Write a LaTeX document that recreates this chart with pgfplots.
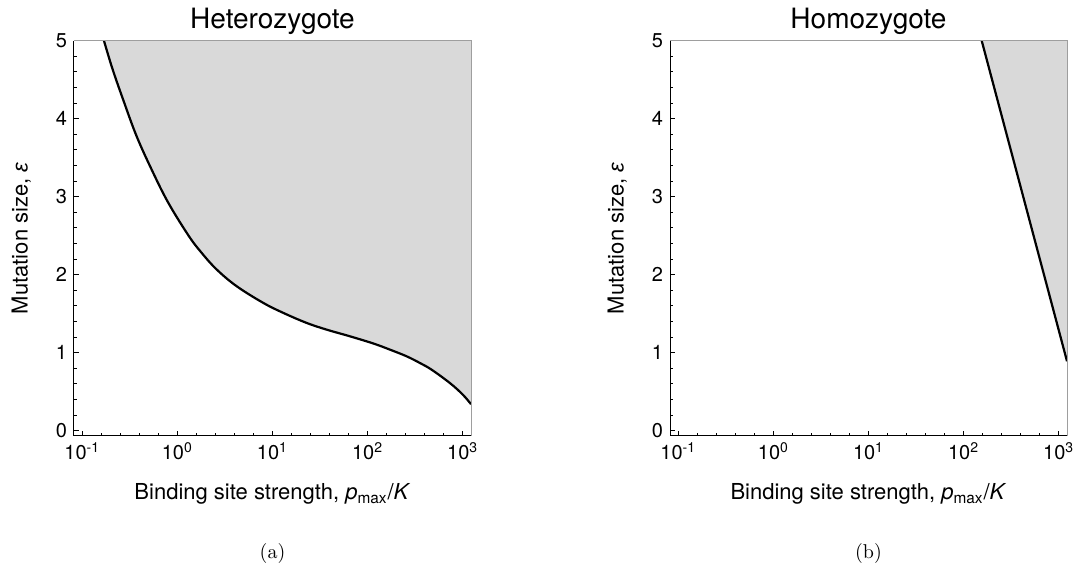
\documentclass[border=0pt]{standalone}
\usepackage{fontspec}
\usepackage{pgfplots}
\usepackage{pgfplotstable}
\pgfplotsset{compat=1.18}
\newfontfamily\hv{TeX Gyre Heros}
\newfontfamily\lib{Liberation Sans}
\definecolor{shade}{gray}{0.85}
\definecolor{framegray}{gray}{0.62}

% log10(p_max/K) vs epsilon
\pgfplotstableread{
lx eps
-0.772 5.000
-0.684 4.644
-0.572 4.250
-0.432 3.785
-0.274 3.356
-0.098 2.927
0.119 2.498
0.253 2.283
0.411 2.069
0.621 1.854
0.902 1.639
1.112 1.511
1.358 1.382
1.568 1.296
1.814 1.210
2.060 1.118
2.235 1.039
2.411 0.953
2.551 0.867
2.674 0.781
2.867 0.609
3.000 0.463
3.087 0.340
}\hetero

\pgfplotstableread{
lx eps
-0.772 5.000
-0.684 4.644
-0.572 4.250
-0.432 3.785
-0.274 3.356
-0.098 2.927
0.119 2.498
0.253 2.283
0.411 2.069
0.621 1.854
0.902 1.639
1.112 1.511
1.358 1.382
1.568 1.296
1.814 1.210
2.060 1.118
2.235 1.039
2.411 0.953
2.551 0.867
2.674 0.781
2.867 0.609
3.000 0.463
3.087 0.340
3.10 0.32
3.10 5.10
-0.772 5.10
}\heterofill

\pgfplotstableread{
lx eps
2.19 5.00
3.087 0.89
}\homo

\pgfplotstableread{
lx eps
2.19 5.10
2.19 5.00
3.087 0.89
3.10 0.86
3.10 5.10
}\homofill

\pgfplotsset{
  myaxis/.style={
    scale only axis, width=198.5pt, height=197.65pt,
    xmin=-1.087, xmax=3.087, ymin=-0.068, ymax=5,
    axis x line*=bottom, axis y line*=left,
    axis line style={black, line width=0.5pt},
    xtick={-1,0,1,2,3},
    xticklabels={10\textsuperscript{-1},10\textsuperscript{0},10\textsuperscript{1},10\textsuperscript{2},10\textsuperscript{3}},
    minor x tick num=4,
    ytick={0,1,2,3,4,5}, yticklabels={0,1,2,3,4,5},
    minor y tick num=4,
    tick align=inside,
    major tick length=2.6pt, minor tick length=1.6pt,
    every tick/.style={black, line width=0.4pt},
    tick label style={font=\hv\fontsize{10}{12}\selectfont},
    xticklabel style={anchor=base, yshift=-12pt},
    label style={font=\hv\fontsize{11}{13}\selectfont},
    xlabel={Binding site strength, \textit{p}\textsubscript{max}/\textit{K}},
    ylabel={Mutation size, {\lib\itshape ε}},
    xlabel style={at={(axis description cs:0.5,-0.1619)}, anchor=base},
    ylabel style={at={(axis description cs:-0.1169,0.5)}, anchor=base},
    every axis title shift=0pt,
    title style={font=\hv\fontsize{14}{16}\selectfont, at={(axis description cs:0.5,1.0314)}, anchor=base},
  }
}

\begin{document}
\begin{tikzpicture}
\useasboundingbox (0,0) rectangle (540pt,285.5pt);

\begin{axis}[myaxis, name=A, at={(37pt,67.5pt)}, anchor=south west, title={Heterozygote}]
  \addplot[fill=shade, draw=none] table[x=lx, y=eps] {\heterofill};
  \addplot[black, line width=1.1pt, smooth, tension=0.6] table[x=lx, y=eps] {\hetero};
\end{axis}
\draw[framegray, line width=0.5pt] (A.north west) -- (A.north east) -- (A.south east);
\node[anchor=base, font=\fontsize{10}{12}\selectfont] at ([yshift=-61.15pt]A.south) {(a)};

\begin{axis}[myaxis, name=B, at={(335pt,67.5pt)}, anchor=south west, title={Homozygote}]
  \addplot[fill=shade, draw=none] table[x=lx, y=eps] {\homofill};
  \addplot[black, line width=1.1pt] table[x=lx, y=eps] {\homo};
\end{axis}
\draw[framegray, line width=0.5pt] (B.north west) -- (B.north east) -- (B.south east);
\node[anchor=base, font=\fontsize{10}{12}\selectfont] at ([yshift=-61.15pt]B.south) {(b)};
\end{tikzpicture}
\end{document}
